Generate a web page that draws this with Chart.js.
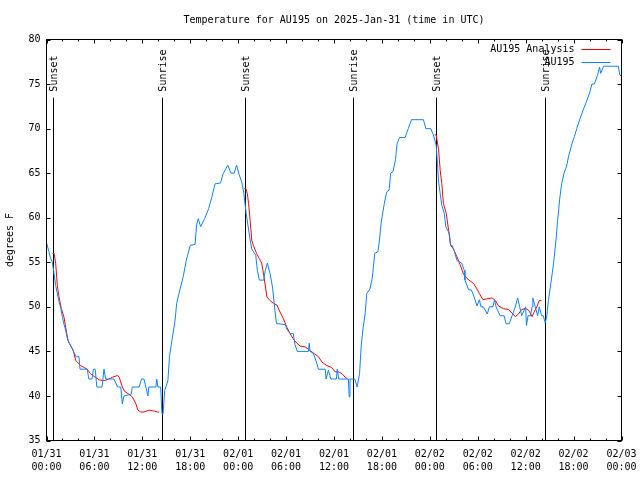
<!DOCTYPE html>
<html>
<head>
<meta charset="utf-8">
<title>AU195 temperature</title>
<script src="https://cdn.jsdelivr.net/npm/chart.js@4.4.1/dist/chart.umd.min.js"></script>
<style>
  body { margin: 0; background: #fff; }
</style>
</head>
<body>
<canvas id="tempChart" width="640" height="480"></canvas>
<script>
// hours since 01/31 00:00 UTC, temps in deg F
var obsHours = [0.0, 0.3, 0.5, 0.73, 0.9, 1.15, 1.35, 1.57, 1.8, 1.98, 2.2, 2.4, 2.6, 2.8, 3.1, 3.44, 3.7, 4.07, 4.2, 5.1,
  5.3, 5.7, 5.87, 6.1, 6.3, 6.95, 7.2, 7.4, 8.45, 8.9, 9.3, 9.5, 9.7, 10.6, 10.75, 11.6, 11.9, 12.2, 12.7, 12.8,
  13.7, 13.8, 13.95, 14.3, 14.45, 14.6, 14.8, 15.2, 15.4, 15.7, 16.1, 16.3, 16.7, 17.1, 17.5, 18.0, 18.6, 18.8, 19.0, 19.3,
  19.8, 20.3, 20.7, 21.1, 21.8, 22.1, 22.7, 23.1, 23.5, 23.8, 24.1, 24.45, 24.7, 25.0, 25.2, 25.45, 25.7, 25.9, 26.2, 26.4,
  26.65, 27.2, 27.4, 27.65, 28.0, 28.3, 28.6, 28.8, 29.1, 29.9, 30.1, 30.5, 30.9, 31.1, 31.4, 32.8, 32.9, 33.0, 33.4, 33.8,
  34.05, 34.9, 35.0, 35.3, 35.6, 36.3, 36.4, 36.6, 37.8, 37.9, 38.0, 38.6, 38.9, 39.2, 39.4, 39.65, 39.9, 40.1, 40.5, 40.8,
  41.1, 41.5, 41.7, 41.9, 42.3, 42.6, 42.9, 43.1, 43.4, 43.7, 43.9, 44.2, 44.9, 45.3, 45.7, 47.2, 47.5, 48.1, 48.45, 48.8,
  48.95, 49.1, 49.3, 49.5, 49.8, 50.0, 50.45, 50.6, 50.8, 51.05, 51.4, 52.0, 52.3, 52.4, 52.85, 53.2, 53.55, 53.9, 54.2, 54.4,
  54.7, 55.2, 55.45, 55.9, 56.1, 56.3, 56.8, 57.3, 57.55, 57.95, 58.3, 58.7, 59.0, 59.25, 59.5, 60.0, 60.1, 60.3, 60.6, 60.8,
  60.9, 61.2, 61.5, 61.7, 62.0, 62.2, 62.45, 62.65, 62.85, 63.15, 63.5, 63.8, 64.0, 64.25, 64.5, 64.8, 65.1, 65.4, 65.8, 66.1,
  66.4, 66.8, 67.2, 67.6, 68.0, 68.3, 68.6, 69.0, 69.25, 69.4, 69.75, 71.6, 71.8, 72.0];
var obsTemps = [57.2, 56.2, 55.5, 55.0, 54.0, 52.4, 51.5, 50.6, 49.8, 48.9, 48.0, 47.4, 46.5, 46.0, 45.5, 44.9, 44.4, 44.4, 43.0, 43.0,
  41.9, 41.9, 43.0, 43.0, 41.0, 41.0, 43.0, 41.9, 41.9, 41.0, 41.0, 39.1, 40.0, 40.2, 41.0, 41.0, 41.9, 41.9, 40.0, 41.0,
  41.0, 41.9, 41.0, 41.0, 38.0, 38.0, 40.6, 41.7, 44.4, 46.2, 48.5, 50.4, 51.9, 53.3, 55.2, 56.9, 57.0, 59.2, 59.9, 59.0,
  59.9, 61.0, 62.3, 63.8, 63.9, 64.9, 65.9, 65.0, 65.0, 65.9, 64.9, 64.0, 62.8, 60.5, 59.3, 57.8, 56.5, 56.2, 55.8, 54.1,
  53.0, 53.0, 54.1, 54.9, 53.7, 52.2, 49.6, 48.1, 48.1, 48.0, 47.5, 47.0, 47.0, 45.8, 45.0, 45.0, 45.9, 45.0, 44.8, 43.8,
  43.0, 43.0, 41.9, 42.9, 41.9, 41.9, 43.0, 41.9, 41.9, 39.9, 41.9, 41.9, 41.0, 42.5, 45.5, 47.7, 49.2, 51.5, 52.0, 53.3,
  56.0, 56.2, 57.5, 59.4, 61.6, 62.9, 63.1, 65.0, 65.2, 66.5, 68.3, 69.0, 69.0, 70.0, 71.0, 71.0, 70.0, 70.0, 69.3, 68.1,
  66.1, 64.0, 62.7, 61.4, 60.5, 59.0, 58.2, 56.9, 56.9, 56.3, 55.2, 54.9, 54.1, 53.0, 51.9, 51.9, 51.1, 50.1, 50.8, 50.0,
  50.0, 49.2, 50.0, 50.0, 50.8, 50.0, 49.0, 49.0, 48.1, 48.1, 49.0, 50.0, 51.0, 50.0, 49.0, 50.0, 47.9, 49.0, 49.0, 50.0,
  51.0, 50.0, 49.0, 50.0, 49.0, 49.0, 48.2, 49.0, 50.7, 52.6, 54.9, 57.5, 59.7, 62.0, 63.8, 65.0, 65.7, 67.0, 68.3, 69.1,
  70.0, 71.1, 72.1, 73.0, 74.0, 75.0, 75.0, 76.0, 76.9, 76.2, 77.0, 77.0, 76.0, 75.9];

// analysis runs only overnight; null breaks the line between nights
var anaHours = [0.73, 0.95, 1.15, 1.35, 1.57, 1.86, 2.2, 2.4, 2.7, 3.0, 3.36, 3.65, 3.86, 4.28, 4.7, 5.1, 5.5, 5.95, 6.6, 7.2,
  7.8, 8.25, 8.9, 9.1, 9.5, 9.8, 10.3, 10.75, 11.2, 11.45, 11.8, 12.2, 12.85, 13.5, 13.9, 14.1, 19.0,
  24.75, 24.95, 25.15, 25.3, 25.5, 25.7, 25.9, 26.3, 26.65, 26.95, 27.25, 27.6, 28.0, 28.4, 28.85, 29.25, 29.65, 30.1, 30.5,
  30.9, 31.35, 31.75, 32.4, 33.0, 33.6, 34.05, 34.5, 35.1, 35.7, 36.15, 36.6, 37.0, 37.4, 37.7, 43.0,
  48.6, 48.8, 49.1, 49.3, 49.5, 49.7, 50.05, 50.35, 50.6, 50.95, 51.4, 51.8, 52.2, 52.65, 53.05, 53.5, 53.9, 54.2, 54.65, 55.15,
  55.8, 56.2, 56.6, 57.2, 57.85, 58.3, 58.7, 59.1, 59.5, 60.0, 60.4, 60.8, 61.05, 61.4, 61.7, 62.0];
var anaTemps = [56.0, 56.0, 54.9, 52.4, 51.1, 49.8, 48.8, 47.7, 46.2, 45.7, 45.1, 44.0, 43.8, 43.4, 43.2, 43.0, 42.5, 42.2, 41.8, 41.7,
  41.9, 42.1, 42.3, 42.1, 41.0, 40.5, 40.2, 39.9, 39.1, 38.4, 38.2, 38.2, 38.4, 38.3, 38.2, 38.2, null,
  63.3, 63.3, 62.7, 61.6, 59.7, 57.5, 56.9, 56.0, 55.4, 54.9, 53.3, 51.1, 50.7, 50.4, 50.2, 49.4, 48.7, 47.7, 47.0,
  46.4, 45.9, 45.6, 45.5, 45.1, 44.7, 44.4, 43.8, 43.4, 43.2, 42.7, 42.7, 42.5, 42.1, 41.9, null,
  69.3, 69.3, 67.6, 65.3, 63.8, 61.6, 60.5, 58.6, 56.9, 56.5, 55.6, 54.7, 53.7, 53.2, 52.9, 52.6, 52.0, 51.5, 50.8, 50.9,
  51.0, 50.7, 50.1, 49.8, 49.7, 49.3, 48.9, 49.2, 49.7, 49.8, 49.6, 48.9, 49.4, 50.0, 50.7, 50.7];

var sunHours = [0.85, 14.4, 24.88, 38.43, 48.83, 62.42];
var sunLabels = ['Sunset', 'Sunrise', 'Sunset', 'Sunrise', 'Sunset', 'Sunrise'];

var tickDays = ['01/31', '01/31', '01/31', '01/31', '02/01', '02/01', '02/01', '02/01', '02/02', '02/02', '02/02', '02/02', '02/03'];
var tickTimes = ['00:00', '06:00', '12:00', '18:00', '00:00', '06:00', '12:00', '18:00', '00:00', '06:00', '12:00', '18:00', '00:00'];

var monoFont = '"DejaVu Sans Mono", monospace';
Chart.defaults.font.family = monoFont;
Chart.defaults.font.size = 10;
Chart.defaults.color = '#000';

function toPoints(xs, ys) {
  return xs.map(function(x, i) { return {x: x, y: ys[i]}; });
}

// gnuplot look: border, inward ticks on all sides, sun markers, key inside the plot
var gnuplotFrame = {
  id: 'gnuplotFrame',
  beforeDatasetsDraw: function(chart) {
    var ctx = chart.ctx, a = chart.chartArea, xs = chart.scales.x;
    var top = a.bottom - 0.855 * (a.bottom - a.top);
    ctx.save();
    ctx.strokeStyle = '#000';
    ctx.fillStyle = '#000';
    ctx.lineWidth = 1;
    ctx.font = '10px ' + monoFont;
    sunHours.forEach(function(h, i) {
      var x = Math.round(xs.getPixelForValue(h)) + 0.5;
      ctx.beginPath();
      ctx.moveTo(x, top);
      ctx.lineTo(x, a.bottom);
      ctx.stroke();
      ctx.save();
      ctx.translate(x + 1, top - 6);
      ctx.rotate(-Math.PI / 2);
      ctx.textAlign = 'left';
      ctx.textBaseline = 'middle';
      ctx.fillText(sunLabels[i], 0, 0);
      ctx.restore();
    });
    ctx.restore();
  },
  afterDatasetsDraw: function(chart) {
    var ctx = chart.ctx, a = chart.chartArea;
    var xs = chart.scales.x, ys = chart.scales.y;
    ctx.save();
    ctx.strokeStyle = '#000';
    ctx.lineWidth = 1;
    ctx.strokeRect(a.left, a.top, a.right - a.left, a.bottom - a.top);
    ctx.beginPath();
    for (var h = 0; h <= 72; h += 2) {
      var x = Math.round(xs.getPixelForValue(h)) + 0.5;
      var len = (h % 6 === 0) ? 4 : 2;
      ctx.moveTo(x, a.bottom); ctx.lineTo(x, a.bottom - len);
      ctx.moveTo(x, a.top); ctx.lineTo(x, a.top + len);
    }
    ys.ticks.forEach(function(t) {
      var y = Math.round(ys.getPixelForValue(t.value)) + 0.5;
      ctx.moveTo(a.left, y); ctx.lineTo(a.left + 4, y);
      ctx.moveTo(a.right, y); ctx.lineTo(a.right - 4, y);
    });
    ctx.stroke();

    // key
    ctx.font = '10px ' + monoFont;
    ctx.textAlign = 'right';
    ctx.textBaseline = 'middle';
    ctx.fillStyle = '#000';
    chart.data.datasets.forEach(function(ds, i) {
      var y = a.top + 10 + i * 13;
      ctx.fillText(ds.label, a.right - 47, y);
      ctx.strokeStyle = ds.borderColor;
      ctx.beginPath();
      ctx.moveTo(a.right - 40, y);
      ctx.lineTo(a.right - 11, y);
      ctx.stroke();
    });
    ctx.restore();
  }
};

new Chart(document.getElementById('tempChart'), {
  type: 'line',
  data: {
    datasets: [{
      label: 'AU195 Analysis',
      data: toPoints(anaHours, anaTemps),
      borderColor: '#ff0000',
      borderWidth: 1,
      pointRadius: 0,
      spanGaps: false,
      order: 1
    }, {
      label: 'AU195',
      data: toPoints(obsHours, obsTemps),
      borderColor: '#0a84ff',
      borderWidth: 1,
      pointRadius: 0,
      order: 0
    }]
  },
  options: {
    responsive: false,
    animation: false,
    devicePixelRatio: 1,
    layout: { padding: { left: 0, right: 18.5, top: 0, bottom: 0 } },
    plugins: {
      legend: { display: false },
      tooltip: { enabled: false },
      title: {
        display: true,
        fullSize: false,
        text: 'Temperature for AU195 on 2025-Jan-31 (time in UTC)',
        font: { size: 10, weight: 'normal' },
        color: '#000',
        padding: { top: 14, bottom: 13.5 }
      }
    },
    scales: {
      x: {
        type: 'linear',
        min: 0,
        max: 72,
        grid: { display: false, drawTicks: false },
        border: { display: false },
        afterFit: function(scale) {
          scale.height = 39.5;
          scale.paddingLeft = 0;
          scale.paddingRight = 0;
        },
        ticks: {
          stepSize: 6,
          autoSkip: false,
          maxRotation: 0,
          padding: 7,
          font: { lineHeight: 1.3 },
          callback: function(value) {
            var i = Math.round(value / 6);
            return [tickDays[i], tickTimes[i]];
          }
        }
      },
      y: {
        min: 35,
        max: 80,
        grid: { display: false, drawTicks: false },
        border: { display: false },
        afterFit: function(scale) {
          scale.width = 46.5;
          scale.paddingTop = 0;
          scale.paddingBottom = 0;
        },
        ticks: { stepSize: 5, padding: 6 },
        title: {
          display: true,
          text: 'degrees F',
          padding: { top: 4, bottom: 0 }
        }
      }
    }
  },
  plugins: [gnuplotFrame]
});
</script>
</body>
</html>
